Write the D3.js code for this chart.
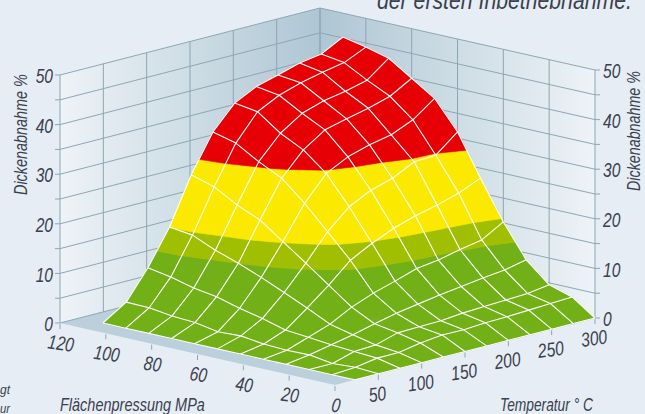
<!DOCTYPE html>
<html>
<head>
<meta charset="utf-8">
<script src="https://cdn.jsdelivr.net/npm/d3@7"></script>
<style>
  html, body { margin: 0; padding: 0; background: #e6edf5; overflow: hidden; }
  svg { display: block; }
  text { font-family: "Liberation Sans", sans-serif; font-style: italic; fill: #3b404e; }
</style>
</head>
<body>
<svg width="645" height="414"></svg>
<script>
// Axis ticks
const PRESS_TICKS = [0, 20, 40, 60, 80, 100, 120];
const TEMP_TICKS = [0, 50, 100, 150, 200, 250, 300];
const DICKE_TICKS = [0, 5, 10, 15, 20, 25, 30, 35, 40, 45, 50];
const DICKE_LABELS = [0, 10, 20, 30, 40, 50];

// Surface grid
const PRESS = [0, 10, 20, 30, 40, 50, 60, 70, 80, 90, 100, 110];
const TEMP = [23, 50, 75, 100, 125, 150, 175, 200, 225, 250, 275, 300];
const dickeT23 = [0, 0, 0, 0, 0, 0, 0, 0, 0, 0, 0, 0];
const dickeT50 = [0, 0.3, 0, 0.7, 0.6, 0.8, 1.4, 1.2, 2, 2.3, 2.9, 3];
const dickeT75 = [0, 1, 1.3, 1.6, 2.1, 2.5, 3.8, 4.8, 6.1, 6.8, 8, 8.8];
const dickeT100 = [0, 1, 1.5, 2.5, 3.6, 5.8, 7.9, 9.9, 11.7, 13.3, 15.3, 15.9];
const dickeT125 = [0, 1.8, 2.8, 3.6, 5.9, 9.3, 12.7, 16, 19.3, 21.3, 23.9, 25.3];
const dickeT150 = [0, 2.3, 2.9, 4.6, 7.6, 13.2, 17.9, 22.6, 26.6, 28.9, 31.6, 32.8];
const dickeT175 = [0, 2.2, 3, 5.3, 8.9, 15.5, 21.8, 27.5, 31.2, 33.5, 36.8, 37.5];
const dickeT200 = [0, 2.5, 3.4, 6, 10.3, 17.4, 24, 29.7, 34.1, 36.4, 39, 39.7];
const dickeT225 = [0, 2.6, 3.6, 6.6, 10.9, 18.8, 25.3, 31, 35.2, 37.8, 40.4, 40.9];
const dickeT250 = [0, 2.8, 3.8, 7.2, 11.9, 19.8, 27.5, 31.9, 36.2, 38.6, 41.4, 42.2];
const dickeT275 = [0, 3, 4, 7.7, 12.7, 21.1, 27.7, 33.8, 37.5, 39.7, 42.2, 42.9];
const dickeT300 = [0, 3.2, 4.6, 8.6, 15.2, 23, 31.3, 37, 40, 43, 44.2, 45.2];
const DICKE = [dickeT23, dickeT50, dickeT75, dickeT100, dickeT125, dickeT150,
    dickeT175, dickeT200, dickeT225, dickeT250, dickeT275, dickeT300];

// Colour bands
const BAND_EDGES = [-1, 11.7, 15.8, 28, 100];
const BAND_COLOURS = ['#72b017', '#a0bf00', '#fbe900', '#e60005'];

const svg = d3.select('svg');

// Oblique projection
const X_PRESS = d3.scaleLinear().domain([0, 120]).range([0, -275]);
const Y_PRESS = d3.scaleLinear().domain([0, 120]).range([0, -62]);
const X_TEMP = d3.scaleLinear().domain([0, 300]).range([0, 260]);
const Y_TEMP = d3.scaleLinear().domain([0, 300]).range([0, -67]);
const Y_DICKE = d3.scaleLinear().domain([0, 50]).range([0, -248]);

const project = (p, t, z) => [
    335 + X_PRESS(p) + X_TEMP(t),
    385 + Y_PRESS(p) + Y_TEMP(t) + Y_DICKE(z)
];

const GRID = '#8ca7b4';
const defs = svg.append('defs');
const wallGradient = (id, x1, x2) => {
    const g = defs.append('linearGradient').attr('id', id)
        .attr('gradientUnits', 'userSpaceOnUse')
        .attr('x1', x1).attr('x2', x2).attr('y1', 0).attr('y2', 0);
    g.append('stop').attr('offset', 0).attr('stop-color', '#eef3f7');
    g.append('stop').attr('offset', 1).attr('stop-color', '#aec6d3');
};
wallGradient('wallLeft', 60, 320);
wallGradient('wallRight', 595, 320);

const polygon = pts => 'M' + pts.map(p => p.join(',')).join('L') + 'Z';

// Floor and walls
svg.append('path')
    .attr('d', polygon([project(120, 0, 0), project(120, 300, 0), project(0, 300, 0), project(0, 0, 0)]))
    .attr('fill', '#bccfdc');
svg.append('path')
    .attr('d', polygon([project(120, 0, 0), project(120, 0, 50), project(120, 300, 50), project(120, 300, 0)]))
    .attr('fill', 'url(#wallLeft)');
svg.append('path')
    .attr('d', polygon([project(120, 300, 0), project(120, 300, 50), project(0, 300, 50), project(0, 300, 0)]))
    .attr('fill', 'url(#wallRight)');

const segment = (a, b, width = 1) => svg.append('line')
    .attr('x1', a[0]).attr('y1', a[1]).attr('x2', b[0]).attr('y2', b[1])
    .attr('stroke', GRID).attr('stroke-width', width);

// Wall grid
DICKE_TICKS.forEach(z => {
    segment(project(120, 0, z), project(120, 300, z));
    segment(project(120, 300, z), project(0, 300, z));
    const l = project(120, 0, z);
    const r = project(0, 300, z);
    segment([l[0] - 5, l[1]], l);
    segment(r, [r[0] + 5, r[1]]);
});
PRESS_TICKS.forEach(p => segment(project(p, 300, 0), project(p, 300, 50)));
TEMP_TICKS.forEach(t => segment(project(120, t, 0), project(120, t, 50)));

// Axis ticks on the floor edges
PRESS_TICKS.forEach(p => {
    const a = project(p, 0, 0);
    segment([a[0], a[1] + 1], [a[0], a[1] + 6]);
});
TEMP_TICKS.slice(1).forEach(t => {
    const a = project(0, t, 0);
    segment([a[0], a[1] + 1], [a[0], a[1] + 6]);
});

// Clip one quad to a z band, points are [p, t, z]
const clipAt = (poly, level, keepAbove) => {
    const out = [];
    poly.forEach((a, i) => {
        const b = poly[(i + 1) % poly.length];
        const aIn = keepAbove ? a[2] >= level : a[2] <= level;
        const bIn = keepAbove ? b[2] >= level : b[2] <= level;
        if (aIn) out.push(a);
        if (aIn !== bIn) {
            const f = (level - a[2]) / (b[2] - a[2]);
            out.push([a[0] + f * (b[0] - a[0]), a[1] + f * (b[1] - a[1]), level]);
        }
    });
    return out;
};

const surface = svg.append('g');
// back to front
for (let i = PRESS.length - 2; i >= 0; i--) {
    for (let j = TEMP.length - 2; j >= 0; j--) {
        const quad = [
            [PRESS[i], TEMP[j], DICKE[j][i]],
            [PRESS[i + 1], TEMP[j], DICKE[j][i + 1]],
            [PRESS[i + 1], TEMP[j + 1], DICKE[j + 1][i + 1]],
            [PRESS[i], TEMP[j + 1], DICKE[j + 1][i]]
        ];
        BAND_COLOURS.forEach((colour, b) => {
            let part = clipAt(quad, BAND_EDGES[b], true);
            if (part.length) part = clipAt(part, BAND_EDGES[b + 1], false);
            if (part.length < 3) return;
            surface.append('path')
                .attr('d', polygon(part.map(q => project(q[0], q[1], q[2]))))
                .attr('fill', colour)
                .attr('stroke', colour)
                .attr('stroke-width', 0.6)
                .attr('stroke-linejoin', 'round');
        });
    }
}

// White mesh
const meshLine = d3.line();
const mesh = svg.append('g')
    .attr('fill', 'none').attr('stroke', '#fff').attr('stroke-width', 1.1)
    .attr('stroke-linejoin', 'round');
TEMP.forEach((t, j) => mesh.append('path')
    .attr('d', meshLine(PRESS.map((p, i) => project(p, t, DICKE[j][i])))));
PRESS.forEach((p, i) => mesh.append('path')
    .attr('d', meshLine(TEMP.map((t, j) => project(p, t, DICKE[j][i])))));

// The reference face is a condensed oblique, squeeze the installed one
const TICK_SQUEEZE = 0.78;
const tickLabel = (txt, x, y, anchor, size, angle = 0) => svg.append('text')
    .text(txt)
    .attr('transform', `translate(${x},${y}) rotate(${angle}) scale(${TICK_SQUEEZE},1)`)
    .attr('text-anchor', anchor)
    .attr('dy', '0.36em')
    .style('font-size', size + 'px');

DICKE_LABELS.forEach(z => {
    const l = project(120, 0, z);
    const r = project(0, 300, z);
    tickLabel(z, l[0] - 7, l[1] + 1, 'end', 20);
    tickLabel(z, r[0] + 8, r[1] + 1, 'start', 20);
});
PRESS_TICKS.forEach(p => {
    const a = project(p, 0, 0);
    tickLabel(p, a[0] + 1, a[1] + 20, 'middle', 20, 8);
});
TEMP_TICKS.slice(1).forEach(t => {
    const a = project(0, t, 0);
    tickLabel(t, a[0] - 1, a[1] + 20, 'middle', 20, -8);
});

// Axis titles and the cut off text around the chart, fitted to a width
const label = (txt, x, y, size, width, angle = 0) => {
    const el = svg.append('text')
        .text(txt)
        .style('font-size', size + 'px');
    const squeeze = width / el.node().getComputedTextLength();
    el.attr('transform', `translate(${x},${y}) rotate(${angle}) scale(${squeeze},1)`);
};

label('der ersten Inbetriebnahme.', 377, 9, 25, 255);
label('Flächenpressung MPa', 60, 411, 18, 145);
label('Temperatur ° C', 500, 411, 18, 93);
label('Dickenabnahme %', 27, 195, 18, 121, -90);
label('Dickenabnahme %', 640, 191, 18, 120, -90);
label('gt', 0, 394, 13, 10);
label('ur', 0, 413, 13, 10);
</script>
</body>
</html>
